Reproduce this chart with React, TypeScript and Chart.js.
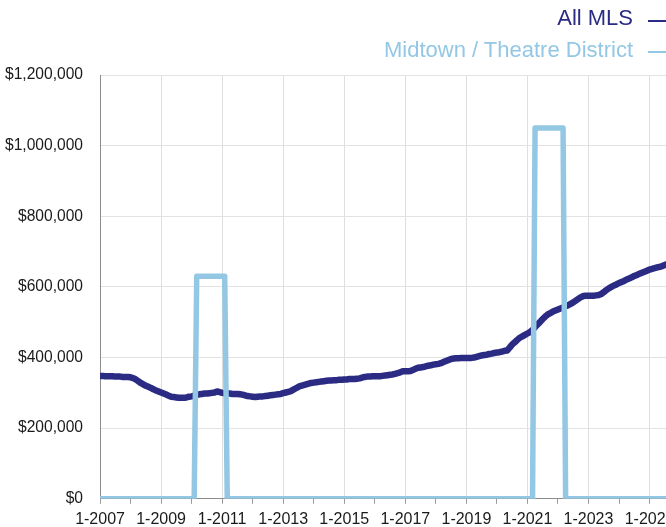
import React, { useEffect, useRef } from 'react';
import { Chart, registerables } from 'chart.js';

Chart.register(...registerables);

// Monthly values, Jan 2007 .. Nov 2025 (index 0 = 1-2007)
const allMlsValues = [
  // 2007
  348000, 348000, 347000, 347000, 347000, 347000, 346000, 346000, 346000, 345000, 345000, 345000,
  // 2008
  344000, 342000, 338000, 333000, 328000, 324000, 320000, 317000, 314000, 310000, 307000, 304000,
  // 2009
  301000, 298000, 295000, 292000, 289000, 288000, 287000, 286000, 286000, 286000, 287000, 289000,
  // 2010
  290000, 292000, 294000, 296000, 297000, 298000, 298000, 299000, 300000, 301000, 304000, 302000,
  // 2011
  300000, 299000, 298000, 298000, 297000, 297000, 297000, 296000, 295000, 293000, 291000, 290000,
  // 2012
  289000, 288000, 289000, 290000, 290000, 291000, 292000, 293000, 294000, 295000, 296000, 297000,
  // 2013
  299000, 301000, 303000, 305000, 309000, 313000, 317000, 320000, 322000, 324000, 326000, 328000,
  // 2014
  329000, 330000, 331000, 332000, 333000, 334000, 335000, 335000, 336000, 336000, 337000, 337000,
  // 2015
  338000, 338000, 339000, 339000, 339000, 340000, 341000, 343000, 345000, 346000, 346000, 347000,
  // 2016
  347000, 347000, 347000, 348000, 349000, 350000, 351000, 352000, 354000, 356000, 358000, 361000,
  // 2017
  361000, 361000, 362000, 365000, 368000, 371000, 372000, 373000, 375000, 377000, 378000, 380000,
  // 2018
  381000, 382000, 384000, 387000, 390000, 393000, 396000, 397000, 398000, 398000, 399000, 399000,
  // 2019
  399000, 399000, 399000, 400000, 402000, 404000, 406000, 407000, 408000, 410000, 411000, 413000,
  // 2020
  414000, 415000, 417000, 419000, 420000, 428000, 437000, 443000, 450000, 456000, 460000, 464000,
  // 2021
  468000, 472000, 478000, 486000, 494000, 501000, 509000, 516000, 522000, 526000, 530000, 533000,
  // 2022
  536000, 539000, 542000, 545000, 548000, 552000, 556000, 561000, 566000, 571000, 574000, 575000,
  // 2023
  575000, 575000, 575000, 576000, 577000, 580000, 585000, 591000, 596000, 600000, 604000, 607000,
  // 2024
  611000, 614000, 617000, 621000, 624000, 627000, 631000, 634000, 637000, 640000, 643000, 646000,
  // 2025
  649000, 651000, 653000, 655000, 657000, 659000, 662000, 665000, 667000, 669000, 671000,
];

const midtownValues = [
  // 2007
  0, 0, 0, 0, 0, 0, 0, 0, 0, 0, 0, 0,
  // 2008
  0, 0, 0, 0, 0, 0, 0, 0, 0, 0, 0, 0,
  // 2009
  0, 0, 0, 0, 0, 0, 0, 0, 0, 0, 0, 0,
  // 2010
  0, 0, 630000, 630000, 630000, 630000, 630000, 630000, 630000, 630000, 630000, 630000,
  // 2011
  630000, 630000, 0, 0, 0, 0, 0, 0, 0, 0, 0, 0,
  // 2012
  0, 0, 0, 0, 0, 0, 0, 0, 0, 0, 0, 0,
  // 2013
  0, 0, 0, 0, 0, 0, 0, 0, 0, 0, 0, 0,
  // 2014
  0, 0, 0, 0, 0, 0, 0, 0, 0, 0, 0, 0,
  // 2015
  0, 0, 0, 0, 0, 0, 0, 0, 0, 0, 0, 0,
  // 2016
  0, 0, 0, 0, 0, 0, 0, 0, 0, 0, 0, 0,
  // 2017
  0, 0, 0, 0, 0, 0, 0, 0, 0, 0, 0, 0,
  // 2018
  0, 0, 0, 0, 0, 0, 0, 0, 0, 0, 0, 0,
  // 2019
  0, 0, 0, 0, 0, 0, 0, 0, 0, 0, 0, 0,
  // 2020
  0, 0, 0, 0, 0, 0, 0, 0, 0, 0, 0, 0,
  // 2021
  0, 0, 0, 1050000, 1050000, 1050000, 1050000, 1050000, 1050000, 1050000, 1050000, 1050000,
  // 2022
  1050000, 1050000, 1050000, 0, 0, 0, 0, 0, 0, 0, 0, 0,
  // 2023
  0, 0, 0, 0, 0, 0, 0, 0, 0, 0, 0, 0,
  // 2024
  0, 0, 0, 0, 0, 0, 0, 0, 0, 0, 0, 0,
  // 2025
  0, 0, 0, 0, 0, 0, 0, 0, 0, 0, 0,
];

const xTickLabels = ['1-2007', '1-2009', '1-2011', '1-2013', '1-2015', '1-2017', '1-2019', '1-2021', '1-2023', '1-2025'];
const yearTickMonths = [0, 12, 24, 36, 48, 60, 72, 84, 96, 108, 120, 132, 144, 156, 168, 180, 192, 204, 216];
const yTickValues = [0, 200000, 400000, 600000, 800000, 1000000, 1200000];

const seriesNames = ['All MLS', 'Midtown / Theatre District'];
const seriesColors = ['#2b2b84', '#93c7e4'];

const FONT = "'Liberation Sans', Arial, Helvetica, sans-serif";

const CANVAS_W = 716;
const CANVAS_H = 535;

export default function App() {
  const canvasRef = useRef<HTMLCanvasElement | null>(null);

  useEffect(() => {
    if (!canvasRef.current) return;
    const chart = new Chart(canvasRef.current, {
      type: 'line',
      data: {
        datasets: [
          {
            label: seriesNames[1],
            data: midtownValues.map((v, i) => ({ x: i, y: v })),
            borderColor: seriesColors[1],
            backgroundColor: seriesColors[1],
            borderWidth: 5.5,
            pointRadius: 0,
            tension: 0,
            borderJoinStyle: 'round',
            borderCapStyle: 'round',
            fill: false,
          },
          {
            label: seriesNames[0],
            data: allMlsValues.map((v, i) => ({ x: i, y: v })),
            borderColor: seriesColors[0],
            backgroundColor: seriesColors[0],
            borderWidth: 6.5,
            pointRadius: 0,
            tension: 0,
            borderJoinStyle: 'round',
            borderCapStyle: 'round',
            fill: false,
          },
        ],
      },
      options: {
        animation: false,
        responsive: false,
        maintainAspectRatio: false,
        layout: { padding: { top: 75, left: 4, right: 25, bottom: 0 } },
        plugins: {
          legend: { display: false },
          tooltip: { enabled: false },
        },
        scales: {
          x: {
            type: 'linear',
            min: 0,
            max: allMlsValues.length - 1,
            afterBuildTicks: (scale: any) => {
              scale.ticks = yearTickMonths.map((v) => ({ value: v }));
            },
            ticks: {
              autoSkip: false,
              maxRotation: 0,
              padding: 6,
              color: '#1a1a1a',
              font: { family: FONT, size: 16 },
              callback: (value: any) => {
                const v = Number(value);
                return v % 24 === 0 ? xTickLabels[v / 24] : '';
              },
            },
            grid: {
              color: (ctx: any) =>
                ctx.tick && ctx.tick.value % 24 === 0 ? '#dedede' : 'rgba(0,0,0,0)',
              tickColor: '#9a9a9a',
              tickLength: 5,
              lineWidth: 1,
            },
            border: { color: '#8c8c8c', width: 1 },
          },
          y: {
            min: 0,
            max: 1200000,
            afterBuildTicks: (scale: any) => {
              scale.ticks = yTickValues.map((v) => ({ value: v }));
            },
            ticks: {
              padding: 17,
              color: '#1a1a1a',
              font: { family: FONT, size: 15.6 },
              callback: (value: any) => '$' + Number(value).toLocaleString('en-US'),
            },
            grid: { color: '#e2e2e2', drawTicks: false, lineWidth: 1 },
            border: { color: '#8c8c8c', width: 1 },
          },
        },
      },
    });
    return () => chart.destroy();
  }, []);

  const legendText: React.CSSProperties = {
    fontFamily: FONT,
    fontSize: 22,
    lineHeight: '32px',
    whiteSpace: 'nowrap',
  };

  return (
    <div style={{ position: 'fixed', left: 0, top: 0, width: 666, height: 527, overflow: 'hidden', background: '#fff' }}>
      <div style={{ position: 'absolute', left: -16, top: 0, width: CANVAS_W, height: CANVAS_H }}>
        <canvas ref={canvasRef} width={CANVAS_W} height={CANVAS_H} style={{ display: 'block', width: CANVAS_W, height: CANVAS_H }} />
      </div>
      <div style={{ position: 'absolute', right: 33, top: 2, textAlign: 'right' }}>
        <div style={{ ...legendText, color: seriesColors[0] }}>{seriesNames[0]}</div>
        <div style={{ ...legendText, color: seriesColors[1] }}>{seriesNames[1]}</div>
      </div>
      <div style={{ position: 'absolute', left: 648, top: 20, width: 30, height: 2, background: seriesColors[0] }} />
      <div style={{ position: 'absolute', left: 648, top: 51, width: 30, height: 2, background: seriesColors[1] }} />
    </div>
  );
}
